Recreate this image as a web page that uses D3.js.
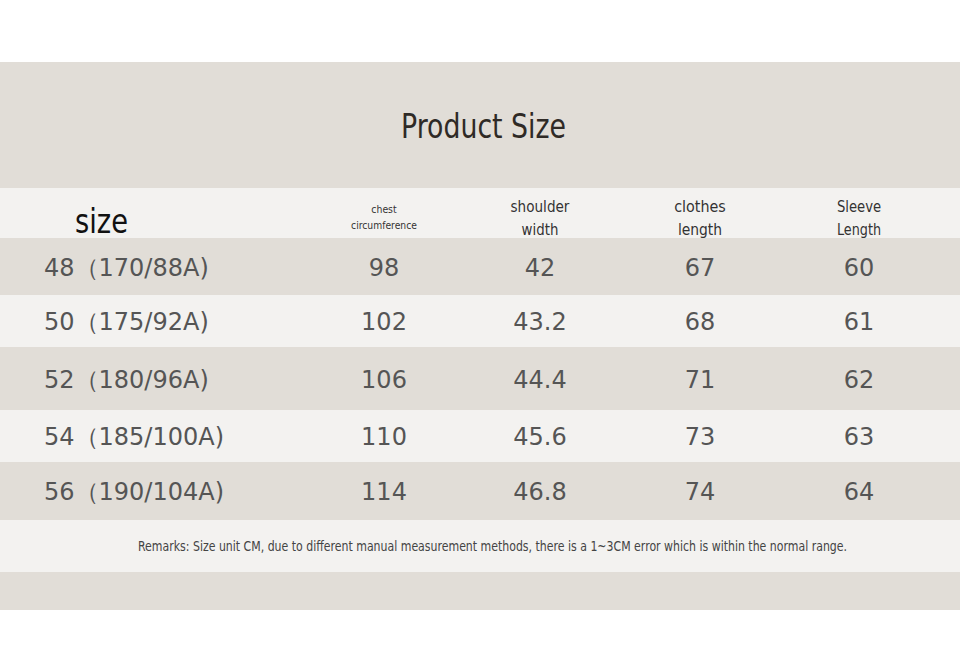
<!DOCTYPE html>
<html><head><meta charset="utf-8">
<script src="https://d3js.org/d3.v7.min.js"></script>
<style>body{margin:0;background:#fff}</style>
</head><body>
<svg width="960" height="672"></svg>
<script>
const sizes = ["48（170/88A)", "50（175/92A)", "52（180/96A)", "54（185/100A)", "56（190/104A)"];
const chest = ["98", "102", "106", "110", "114"];
const shoulder = ["42", "43.2", "44.4", "45.6", "46.8"];
const clothes = ["67", "68", "71", "73", "74"];
const sleeve = ["60", "61", "62", "63", "64"];
const headers = [["chest", "circumference"], ["shoulder", "width"], ["clothes", "length"], ["Sleeve", "Length"]];
const remark = "Remarks: Size unit CM, due to different manual measurement methods, there is a 1~3CM error which is within the normal range.";

const svg = d3.select("svg");
const beige = "#e1ddd7", light = "#f3f2f0";
const font = "'DejaVu Sans', sans-serif";

svg.append("rect").attr("x", 0).attr("y", 62).attr("width", 960).attr("height", 548).attr("fill", beige);
svg.append("text").attr("x", 401).attr("y", 138)
  .attr("font-family", font).attr("font-size", 34).attr("fill", "#2f2a26")
  .attr("textLength", 165).attr("lengthAdjust", "spacingAndGlyphs").text("Product Size");

const rowTops = [238, 295, 347, 410, 462, 520];
const y = d3.scaleOrdinal().domain(d3.range(5)).range(rowTops);
svg.append("rect").attr("x", 0).attr("y", 188).attr("width", 960).attr("height", 50).attr("fill", light);
svg.selectAll(".band").data(d3.range(5)).join("rect")
  .attr("x", 0).attr("y", i => y(i)).attr("width", 960)
  .attr("height", i => rowTops[i + 1] - rowTops[i])
  .attr("fill", i => i % 2 ? light : beige);
svg.append("rect").attr("x", 0).attr("y", 520).attr("width", 960).attr("height", 52).attr("fill", light);

svg.append("text").attr("x", 75).attr("y", 233).attr("font-family", font).attr("font-size", 34)
  .attr("fill", "#111").attr("textLength", 53).attr("lengthAdjust", "spacingAndGlyphs").text("size");
const x = d3.scaleOrdinal().domain(d3.range(4)).range([384, 540, 700, 859]);
headers.forEach((h, i) => {
  const small = i === 0;
  const fs = small ? 11 : 16;
  [h[0], h[1]].forEach((s, k) => {
    svg.append("text").attr("x", x(i)).attr("y", small ? [213, 229][k] : [212, 235][k])
      .attr("text-anchor", "middle").attr("font-family", font).attr("font-size", fs).attr("fill", "#333")
      .attr("textLength", s.length * fs * 0.46).attr("lengthAdjust", "spacingAndGlyphs").text(s);
  });
});

const cols = [chest, shoulder, clothes, sleeve];
d3.range(5).forEach(r => {
  const cy = (rowTops[r] + rowTops[r + 1]) / 2 + 9;
  svg.append("text").attr("x", 44).attr("y", cy).attr("font-family", font)
    .attr("font-size", 24).attr("fill", "#555").text(sizes[r]);
  cols.forEach((c, i) => {
    svg.append("text").attr("x", x(i)).attr("y", cy).attr("text-anchor", "middle")
      .attr("font-family", font).attr("font-size", 24).attr("fill", "#555").text(c[r]);
  });
});

svg.append("text").attr("x", 138).attr("y", 551).attr("font-family", font)
  .attr("font-size", 14).attr("fill", "#444").attr("textLength", 709)
  .attr("lengthAdjust", "spacingAndGlyphs").text(remark);
</script>
</body></html>
